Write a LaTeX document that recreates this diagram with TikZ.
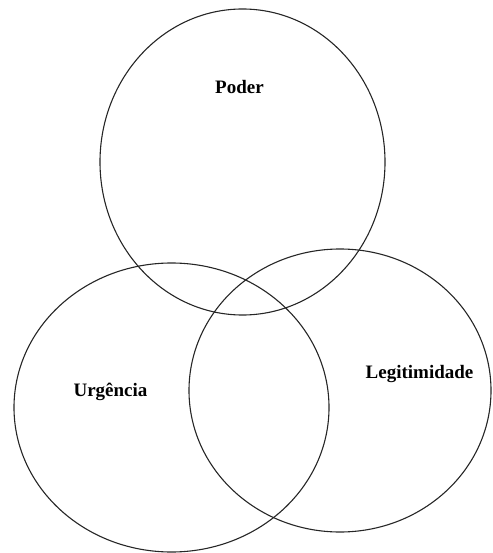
\documentclass[tikz,border=0pt]{standalone}
\usepackage{fontspec}
\setmainfont{Liberation Serif}
\begin{document}
\begin{tikzpicture}[x=1pt,y=-1pt,
  ring/.style={draw=black!85,line width=1.1pt},
  lbl/.style={font=\fontsize{19}{22}\selectfont\bfseries,inner sep=0pt}]
\useasboundingbox (0,0) rectangle (492,553);
% three overlapping attribute sets
\draw[ring] (242.5,162) ellipse [x radius=142.5,y radius=153];
\draw[ring] (171.5,407.5) ellipse [x radius=157.5,y radius=144.5];
\draw[ring] (340,390.5) ellipse [x radius=151,y radius=141.5];
% labels
\node[lbl] (poder) at (239.5,87) {Poder};
\node[lbl] (urg) at (110.5,392) {Urgência};
\node[lbl] (leg) at (419.5,374) {Legitimidade};
\end{tikzpicture}
\end{document}
